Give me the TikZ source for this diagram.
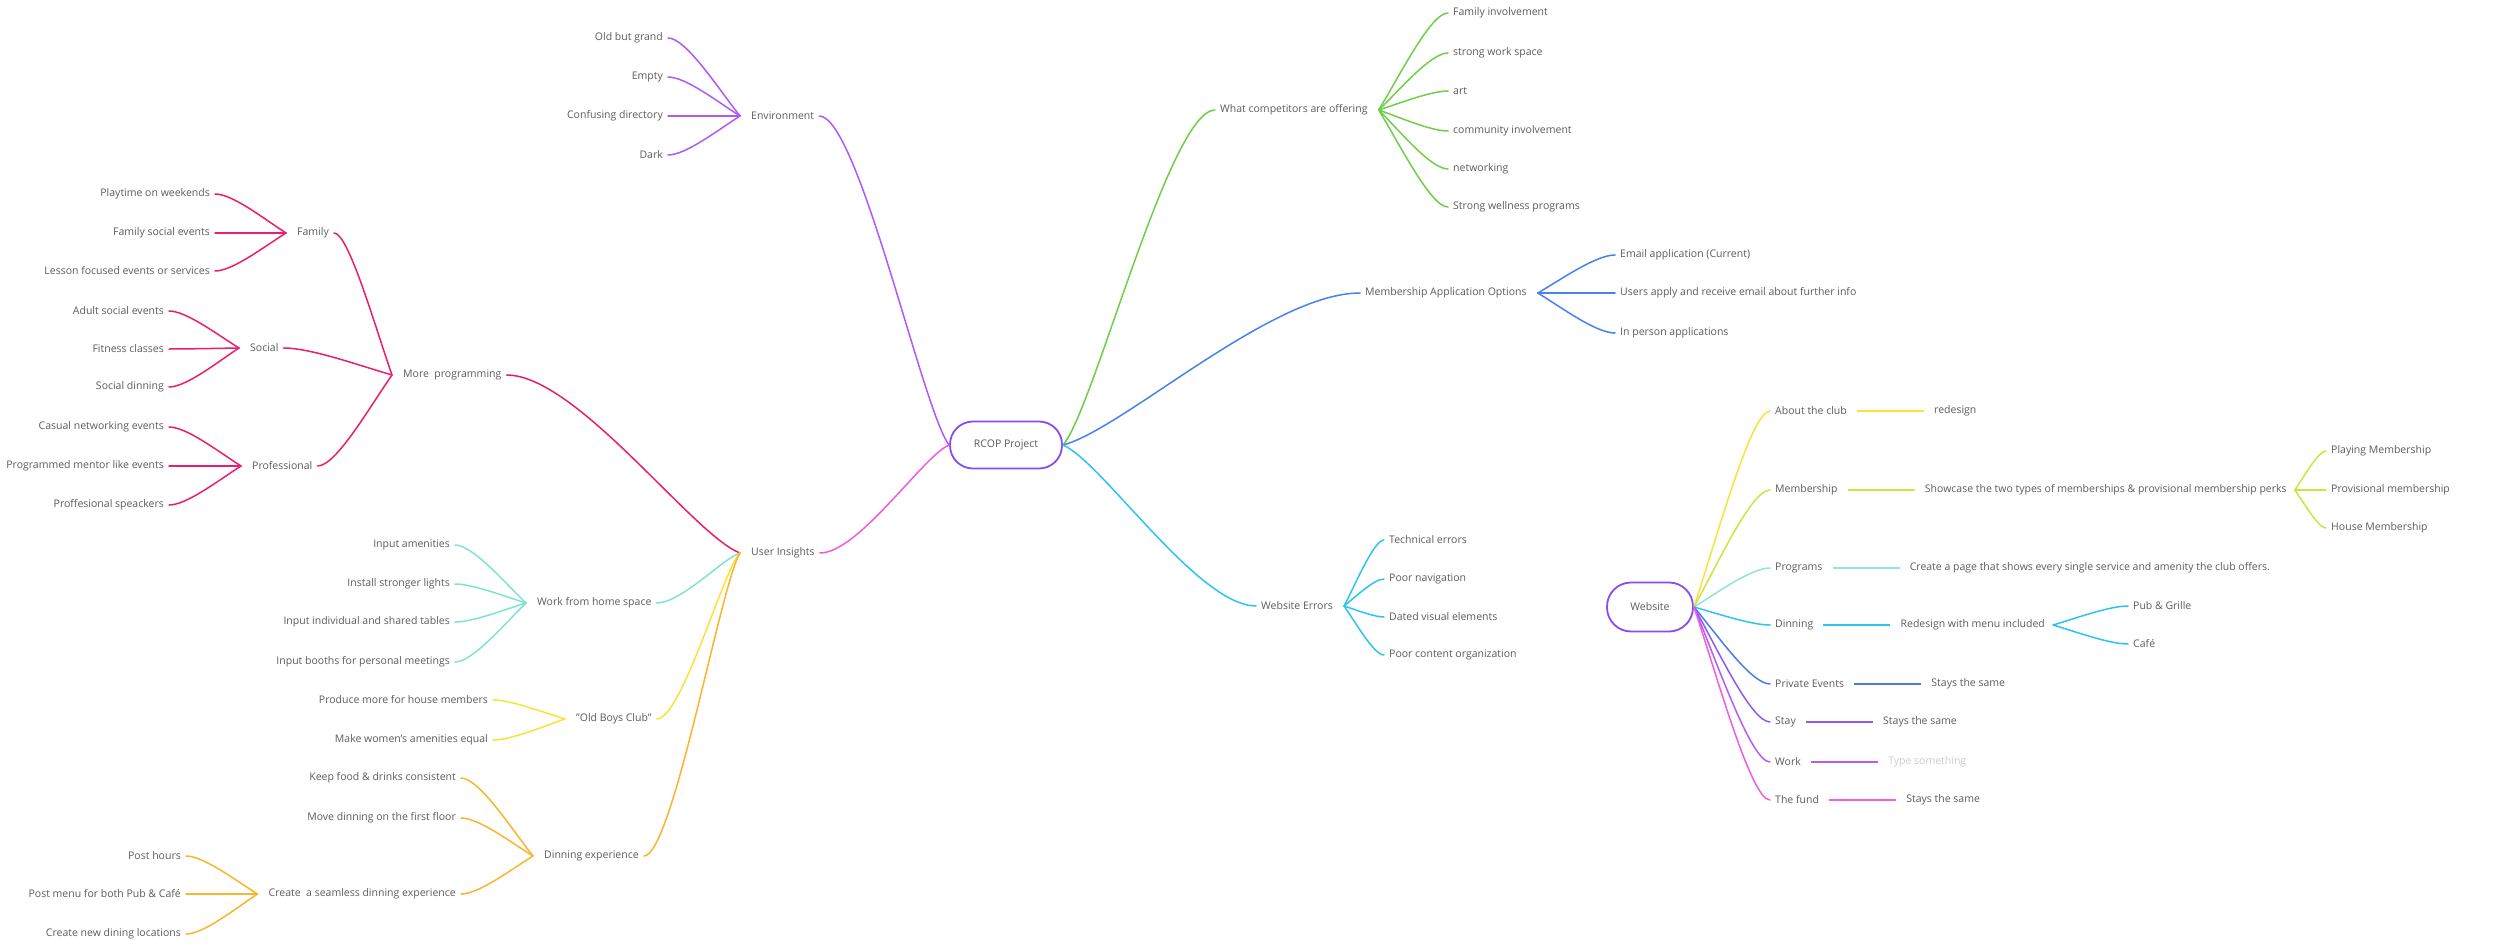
\documentclass[tikz,border=0pt]{standalone}
\usepackage{fontspec}
\setmainfont{Open Sans}
\usetikzlibrary{calc, positioning}

\definecolor{inkgray}{RGB}{92,92,92}
\definecolor{ghost}{RGB}{205,205,205}
\definecolor{hubline}{RGB}{136,76,240}
\definecolor{envc}{RGB}{178,88,245}
\definecolor{progc}{RGB}{233,30,112}
\definecolor{insc}{RGB}{238,92,220}
\definecolor{wfhc}{RGB}{128,226,208}
\definecolor{clubc}{RGB}{250,226,56}
\definecolor{dinec}{RGB}{248,182,44}
\definecolor{compc}{RGB}{112,206,72}
\definecolor{appc}{RGB}{72,130,235}
\definecolor{errc}{RGB}{44,196,240}
\definecolor{limec}{RGB}{202,230,64}
\definecolor{tealc}{RGB}{142,230,216}
\definecolor{privc}{RGB}{72,122,240}
\definecolor{stayc}{RGB}{140,92,240}
\definecolor{workc}{RGB}{182,92,245}
\definecolor{fundc}{RGB}{240,92,226}

\tikzset{
  leaf/.style={font=\fontsize{10.5}{12}\selectfont, text=inkgray, inner xsep=5pt, inner ysep=2pt},
  hub/.style={draw=hubline, line width=1.8pt, fill=white, rounded corners=23pt,
              minimum width=112pt, minimum height=47pt, inner sep=0pt,
              font=\fontsize{10.5}{12}\selectfont, text=inkgray},
  twig/.style={line width=1.5pt, line cap=round},
  bar/.style={line width=2.4pt},
  fan/.style={to path={let \p1=(\tikztostart), \p2=(\tikztotarget) in
     .. controls ({\x1+0.3*(\x2-(\x1))},{\y1+0.35*(\y2-(\y1))})
        and ({\x1+0.75*(\x2-(\x1))},\y2) .. (\tikztotarget)}},
  limb/.style={to path={let \p1=(\tikztostart), \p2=(\tikztotarget) in
     .. controls ({\x1+0.2*(\x2-(\x1))},{\y1+0.1*(\y2-(\y1))})
        and ({\x1+0.7*(\x2-(\x1))},\y2) .. (\tikztotarget)}},
}

\begin{document}
\begin{tikzpicture}[x=1pt, y=-1pt]
  \fill[white] (0,0) rectangle (2500,947);
  \useasboundingbox (0,0) rectangle (2500,947);

  \node[hub] (rcop) at (1006,445) {RCOP Project};

  % Environment
  \node[leaf, anchor=west] (env) at (746,116) {Environment};
  \draw[envc, twig, limb] (rcop.west) to (env.east);
  \foreach \nm/\yy/\tx in {grand/38/Old but grand, empty/77/Empty,
      direc/116/Confusing directory, dark/155/Dark} {
    \node[leaf, anchor=east] (\nm) at (668,\yy) {\tx};
    \draw[envc, twig, fan] ([xshift=-6pt]env.west) to (\nm.east);
  }

  % User insights
  \node[leaf, anchor=west] (ins) at (746,553) {User Insights};
  \draw[insc, twig, limb] (rcop.west) to (ins.east);

  \node[leaf, anchor=west] (prog) at (398,375) {More\ \ programming};
  \draw[progc, twig, limb] ([xshift=-6pt]ins.west) to (prog.east);
  \node[leaf, anchor=west] (fam) at (292,233) {Family};
  \node[leaf, anchor=west] (soc) at (245,348) {Social};
  \node[leaf, anchor=west] (pro) at (247,466) {Professional};
  \foreach \sub in {fam, soc, pro}
    \draw[progc, twig, fan] ([xshift=-6pt]prog.west) to (\sub.east);
  \foreach \nm/\yy/\tx in {play/194/Playtime on weekends,
      famev/233/Family social events, lesson/271/Lesson focused events or services} {
    \node[leaf, anchor=east] (\nm) at (215,\yy) {\tx};
    \draw[progc, twig, fan] ([xshift=-6pt]fam.west) to (\nm.east);
  }
  \foreach \nm/\yy/\tx in {adult/311/Adult social events,
      fit/349/Fitness classes, sdin/387/Social dinning} {
    \node[leaf, anchor=east] (\nm) at (169,\yy) {\tx};
    \draw[progc, twig, fan] ([xshift=-6pt]soc.west) to (\nm.east);
  }
  \foreach \nm/\yy/\tx in {casual/427/Casual networking events,
      mentor/466/Programmed mentor like events, speak/505/Proffesional speackers} {
    \node[leaf, anchor=east] (\nm) at (169,\yy) {\tx};
    \draw[progc, twig, fan] ([xshift=-6pt]pro.west) to (\nm.east);
  }

  \node[leaf, anchor=west] (wfh) at (532,603) {Work from home space};
  \draw[wfhc, twig, limb] ([xshift=-6pt]ins.west) to (wfh.east);
  \foreach \nm/\yy/\tx in {amen/545/Input amenities, light/584/Install stronger lights,
      tables/622/Input individual and shared tables, booth/662/Input booths for personal meetings} {
    \node[leaf, anchor=east] (\nm) at (455,\yy) {\tx};
    \draw[wfhc, twig, fan] ([xshift=-6pt]wfh.west) to (\nm.east);
  }

  \node[leaf, anchor=west] (club) at (571,719) {"Old Boys Club"};
  \draw[clubc, twig, limb] ([xshift=-6pt]ins.west) to (club.east);
  \foreach \nm/\yy/\tx in {house/700/Produce more for house members,
      women/740/Make women's amenities equal} {
    \node[leaf, anchor=east] (\nm) at (493,\yy) {\tx};
    \draw[clubc, twig, fan] ([xshift=-6pt]club.west) to (\nm.east);
  }

  \node[leaf, anchor=west] (dine) at (539,856) {Dinning experience};
  \draw[dinec, twig, limb] ([xshift=-6pt]ins.west) to (dine.east);
  \foreach \nm/\yy/\tx in {keep/778/Keep food \& drinks consistent,
      floor/818/Move dinning on the first floor,
      seam/894/Create\ \ a seamless dinning experience} {
    \node[leaf, anchor=east] (\nm) at (461,\yy) {\tx};
    \draw[dinec, twig, fan] ([xshift=-6pt]dine.west) to (\nm.east);
  }
  \foreach \nm/\yy/\tx in {hours/856/Post hours, menu/894/Post menu for both Pub \& Café,
      newloc/934/Create new dining locations} {
    \node[leaf, anchor=east] (\nm) at (186,\yy) {\tx};
    \draw[dinec, twig, fan] ([xshift=-6pt]seam.west) to (\nm.east);
  }

  % Competitors
  \node[leaf, anchor=west] (comp) at (1215,110) {What competitors are offering};
  \draw[compc, twig, limb] (rcop.east) to (comp.west);
  \foreach \nm/\yy/\tx in {famin/13/Family involvement, space/53/strong work space,
      art/91/art, commun/131/community involvement, netw/169/networking,
      well/207/Strong wellness programs} {
    \node[leaf, anchor=west] (\nm) at (1448,\yy) {\tx};
    \draw[compc, twig, fan] ([xshift=6pt]comp.east) to (\nm.west);
  }

  % Membership application
  \node[leaf, anchor=west] (mapp) at (1360,293) {Membership Application Options};
  \draw[appc, twig, limb] (rcop.east) to (mapp.west);
  \foreach \nm/\yy/\tx in {email/255/Email application (Current),
      apply/293/Users apply and receive email about further info,
      person/333/In person applications} {
    \node[leaf, anchor=west] (\nm) at (1615,\yy) {\tx};
    \draw[appc, twig, fan] ([xshift=6pt]mapp.east) to (\nm.west);
  }

  % Website errors
  \node[leaf, anchor=west] (werr) at (1256,606) {Website Errors};
  \draw[errc, twig, limb] (rcop.east) to (werr.west);
  \foreach \nm/\yy/\tx in {tech/540/Technical errors, navi/579/Poor navigation,
      dated/617/Dated visual elements, organ/655/Poor content organization} {
    \node[leaf, anchor=west] (\nm) at (1384,\yy) {\tx};
    \draw[errc, twig, fan] ([xshift=6pt]werr.east) to (\nm.west);
  }

  % Website
  \node[hub, minimum width=86pt, minimum height=49pt, rounded corners=24pt] (web) at (1650,607) {Website};
  \foreach \nm/\yy/\col/\tx in {about/411/clubc/About the club, memb/490/limec/Membership,
      progs/568/tealc/Programs, dinn/625/errc/Dinning, priv/684/privc/Private Events,
      stay/722/stayc/Stay, work/762/workc/Work, fund/800/fundc/The fund} {
    \node[leaf, anchor=west] (\nm) at (1770,\yy) {\tx};
    \draw[\col, twig, fan] (web.east) to (\nm.west);
  }
  \node[leaf, right=77pt of about] (redes) {redesign};
  \node[leaf, right=77pt of memb] (show) {Showcase the two types of memberships \& provisional membership perks};
  \node[leaf, right=77pt of progs] (page) {Create a page that shows every single service and amenity the club offers.};
  \node[leaf, right=77pt of dinn] (menuin) {Redesign with menu included};
  \node[leaf, right=77pt of priv] (same1) {Stays the same};
  \node[leaf, right=77pt of stay] (same2) {Stays the same};
  \node[leaf, right=77pt of work, text=ghost] (typing) {Type something};
  \node[leaf, right=77pt of fund] (same3) {Stays the same};
  \foreach \a/\b/\col in {about/redes/clubc, memb/show/limec, progs/page/tealc,
      dinn/menuin/errc, priv/same1/privc, stay/same2/stayc, work/typing/workc, fund/same3/fundc}
    \draw[\col, bar] ([xshift=5pt]\a.east) -- ([xshift=-5pt]\b.west);

  \foreach \nm/\yy/\tx in {playm/451/Playing Membership, provm/490/Provisional membership,
      housem/528/House Membership} {
    \node[leaf, anchor=west] (\nm) at (2326,\yy) {\tx};
    \draw[limec, twig, fan] ([xshift=3pt]show.east) to (\nm.west);
  }
  \foreach \nm/\yy/\tx in {pub/606/Pub \& Grille, cafe/644/Café} {
    \node[leaf, anchor=west] (\nm) at (2128,\yy) {\tx};
    \draw[errc, twig, fan] ([xshift=3pt]menuin.east) to (\nm.west);
  }
\end{tikzpicture}
\end{document}
